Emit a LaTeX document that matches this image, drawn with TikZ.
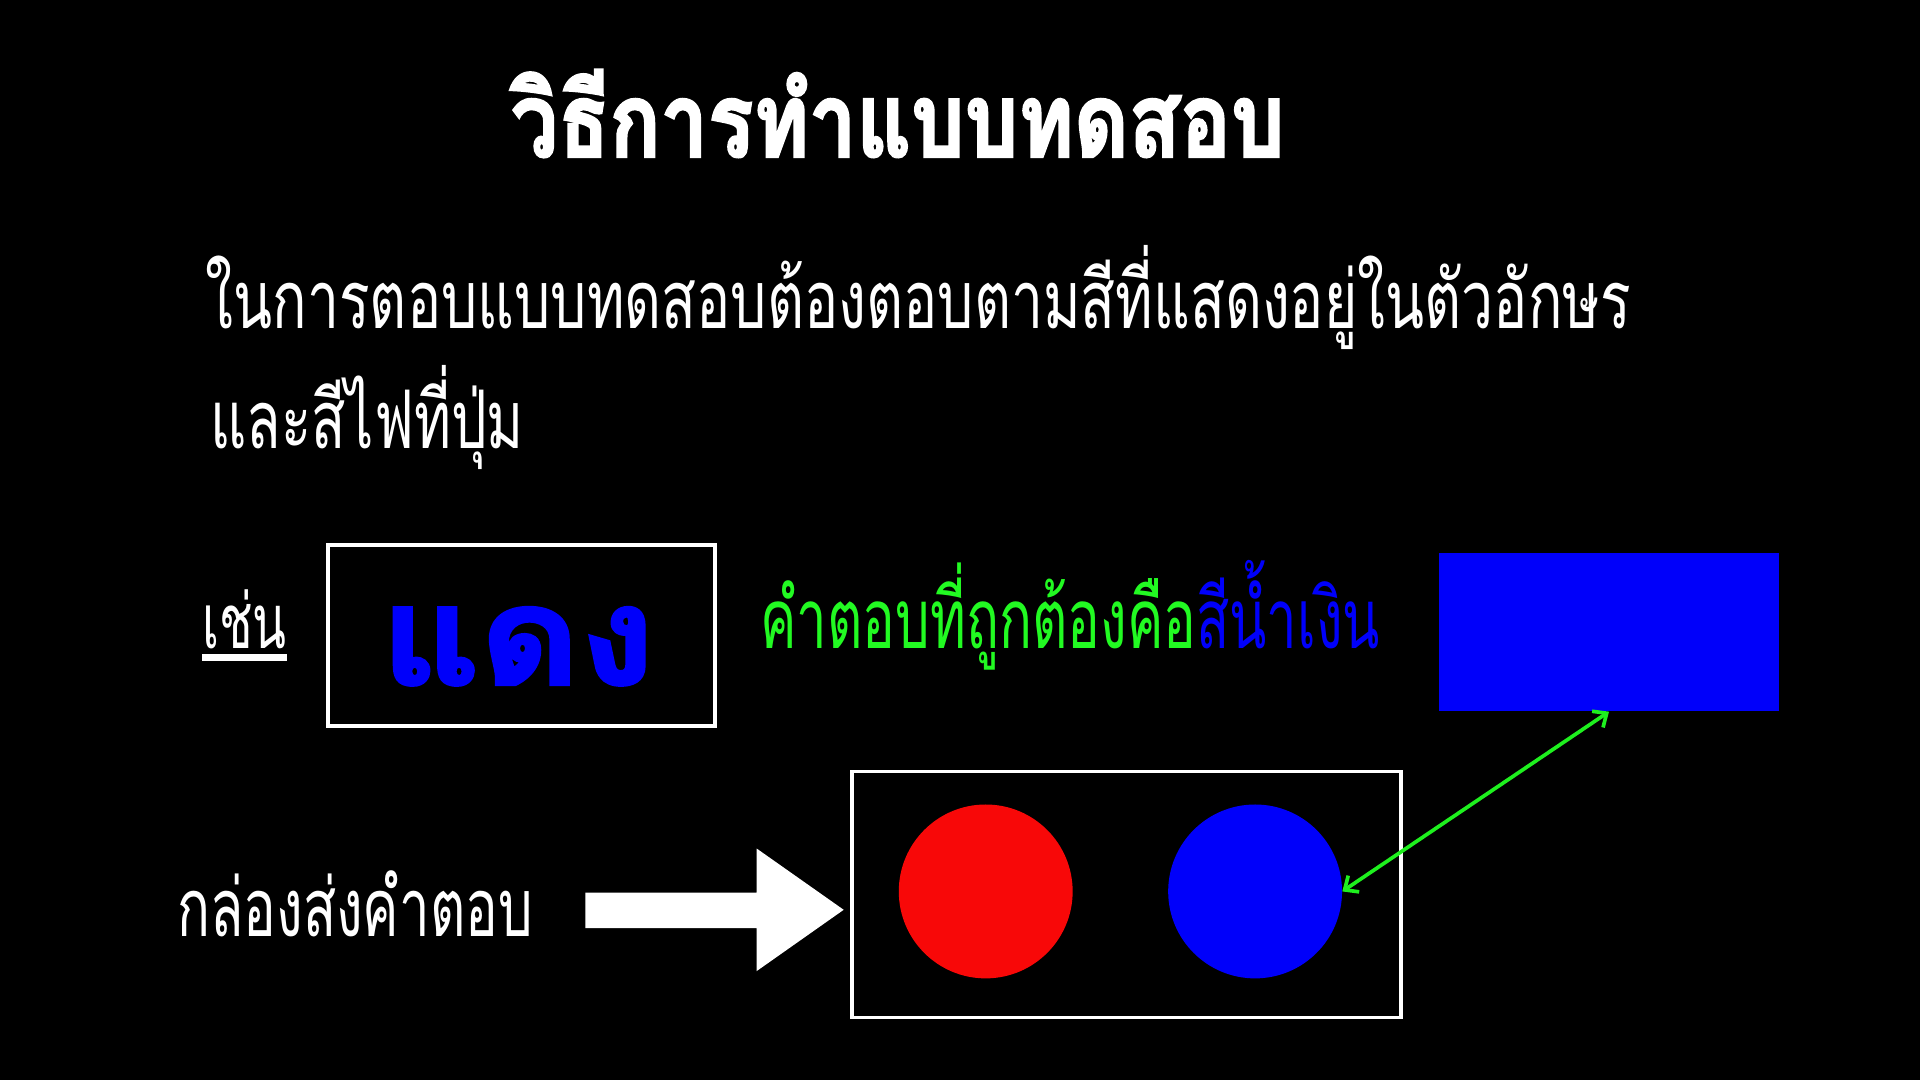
\documentclass[tikz,border=0pt]{standalone}
\usepackage{fontspec}
\usepackage{graphicx}
\usetikzlibrary{arrows.meta,calc}
\newfontfamily\thai[Script=Thai]{Loma}
\newfontfamily\thaiheavy[Script=Thai,BoldFeatures={FakeBold=2.5}]{Loma}
\definecolor{txtgreen}{RGB}{34,250,34}
\definecolor{arrgreen}{RGB}{30,240,30}
\definecolor{pureblue}{RGB}{0,0,250}
\definecolor{circred}{RGB}{248,8,8}
\begin{document}
\begin{tikzpicture}[x=1pt,y=-1pt,
  txt/.style={inner sep=0pt,outer sep=0pt,anchor=base west,text=white},
  frame/.style={draw=white,line width=3pt},
  dot/.style={circle,minimum size=142pt,inner sep=0pt},
  barb/.tip={Straight Barb[length=9pt,width=16pt,line width=3pt]}]
\fill[black] (0,0) rectangle (1568,882);
\useasboundingbox (0,0) rectangle (1568,882);

% title
\node[txt] (title) at (417,128) {\resizebox{632pt}{\height}{\thaiheavy\bfseries\fontsize{84}{90}\selectfont วิธีการทำแบบทดสอบ}};

% instructions
\node[txt] (line1) at (168,268) {\resizebox{1164pt}{\height}{\thai\fontsize{66}{70}\selectfont ในการตอบแบบทดสอบต้องตอบตามสีที่แสดงอยู่ในตัวอักษร}};
\node[txt] (line2) at (172,366) {\resizebox{256pt}{\height}{\thai\fontsize{66}{70}\selectfont และสีไฟที่ปุ่ม}};

% example
\node[txt] (sample) at (165,530) {\resizebox{69pt}{\height}{\thai\fontsize{62}{70}\selectfont เช่น}};
\fill[white] ($(sample.base west)+(0,4)$) rectangle ($(sample.base east)+(0,10)$);

\node[frame,minimum width=316pt,minimum height=148pt,inner sep=0pt] (wordbox) at (426,519) {};
\node[inner sep=0pt,anchor=base] (word) at (423,559) {\resizebox{223pt}{\height}{\thaiheavy\bfseries\fontsize{112}{120}\selectfont\color{pureblue}แดง}};

\node[txt] (answer) at (621,530) {\resizebox{506pt}{\height}{\thai\fontsize{68}{70}\selectfont\color{txtgreen}คำตอบที่ถูกต้องคือ\color{pureblue}สีน้ำเงิน}};

\node[fill=pureblue,minimum width=278pt,minimum height=129pt,inner sep=0pt] (swatch) at (1314,516.5) {};

% answer box
\node[frame,minimum width=448pt,minimum height=201pt,inner sep=0pt] (btnbox) at (920,730.5) {};
\node[dot,fill=circred] (redbtn) at (805,728) {};
\node[dot,fill=pureblue] (bluebtn) at (1025,728) {};

\draw[arrgreen,line width=3pt,barb-barb] (bluebtn.east) -- (swatch.south);

% label and block arrow
\node[txt] (sendlabel) at (145,765) {\resizebox{290pt}{\height}{\thai\fontsize{66}{70}\selectfont กล่องส่งคำตอบ}};
\coordinate (tip) at (689,743);
\fill[white] (478,729) -- (618,729) -- (618,693) -- (tip) -- (618,793) -- (618,758) -- (478,758) -- cycle;
\end{tikzpicture}
\end{document}
